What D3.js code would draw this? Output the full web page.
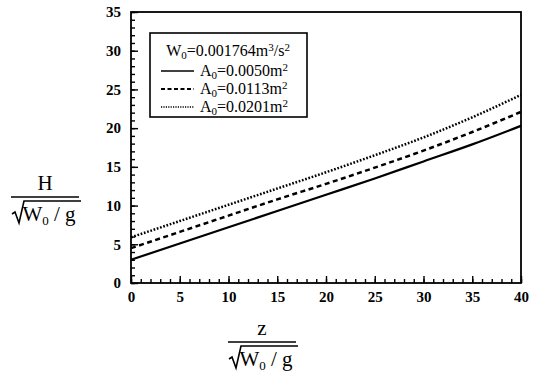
<!DOCTYPE html>
<html>
<head>
<meta charset="utf-8">
<script src="https://cdn.jsdelivr.net/npm/d3@7"></script>
<style>
  body { margin: 0; background: #fff; }
  text { font-family: "Liberation Serif", "DejaVu Serif", serif; fill: #000; }
</style>
</head>
<body>
<script>
// values
var zValues = [0, 5, 10, 15, 20, 25, 30, 35, 40];
var hSolid  = [3.0, 5.1, 7.2, 9.3, 11.4, 13.5, 15.7, 17.9, 20.3];
var hDashed = [4.5, 6.6, 8.7, 10.8, 12.8, 14.9, 17.1, 19.5, 22.1];
var hDotted = [5.9, 8.0, 10.1, 12.2, 14.3, 16.5, 18.8, 21.4, 24.3];
var seriesAreas = ["0.0050", "0.0113", "0.0201"];
var xTicks = [0, 5, 10, 15, 20, 25, 30, 35, 40];
var yTicks = [0, 5, 10, 15, 20, 25, 30, 35];

var width = 540, height = 375;
// note: "top" is taken by window.top, so use plot* names
var plotL = 131, plotR = 521, plotT = 12, plotB = 283;

var svg = d3.select("body").append("svg")
    .attr("width", width)
    .attr("height", height);

var x = d3.scaleLinear().domain([0, 40]).range([plotL, plotR]);
var y = d3.scaleLinear().domain([0, 35]).range([plotB, plotT]);

// minor ticks every 1 unit, inward
var xMinor = d3.axisBottom(x).tickValues(d3.range(0, 41, 1)).tickSize(-4).tickFormat("");
var yMinor = d3.axisLeft(y).tickValues(d3.range(0, 36, 1)).tickSize(-4).tickFormat("");
svg.append("g").attr("transform", "translate(0," + plotB + ")").call(xMinor);
svg.append("g").attr("transform", "translate(" + plotL + ",0)").call(yMinor);

var xAxis = d3.axisBottom(x).tickValues(xTicks).tickSize(-7).tickPadding(11);
var yAxis = d3.axisLeft(y).tickValues(yTicks).tickSize(-7).tickPadding(10);
var gx = svg.append("g").attr("transform", "translate(0," + plotB + ")").call(xAxis);
var gy = svg.append("g").attr("transform", "translate(" + plotL + ",0)").call(yAxis);

svg.selectAll(".domain").remove();
svg.selectAll(".tick line").attr("stroke", "#000").attr("stroke-width", 1.4);
gx.selectAll("text").attr("font-size", 15).attr("font-family", "Liberation Serif")
    .attr("font-weight", "bold").attr("dy", "0.5em");
gy.selectAll("text").attr("font-size", 15).attr("font-family", "Liberation Serif")
    .attr("font-weight", "bold");

// frame
svg.append("rect")
    .attr("x", plotL).attr("y", plotT)
    .attr("width", plotR - plotL).attr("height", plotB - plotT)
    .attr("fill", "none").attr("stroke", "#000").attr("stroke-width", 1.8);

var line = d3.line()
    .x(function(d) { return x(d[0]); })
    .y(function(d) { return y(d[1]); })
    .curve(d3.curveMonotoneX);

var series = [
    { vals: hSolid,  dash: null,    w: 2.2 },
    { vals: hDashed, dash: "5,3.5", w: 2.5 },
    { vals: hDotted, dash: "1.7,1.7", w: 2.5 }
];

series.forEach(function(s) {
    svg.append("path")
        .datum(zValues.map(function(z, i) { return [z, s.vals[i]]; }))
        .attr("d", line)
        .attr("fill", "none")
        .attr("stroke", "#000")
        .attr("stroke-width", s.w)
        .attr("stroke-dasharray", s.dash);
});

// legend
var lg = svg.append("g");
lg.append("rect")
    .attr("x", 150).attr("y", 33).attr("width", 157).attr("height", 84)
    .attr("fill", "#fff").attr("stroke", "#000").attr("stroke-width", 1.6);

var t0 = lg.append("text").attr("x", 228).attr("y", 56)
    .attr("text-anchor", "middle").attr("font-size", 16);
t0.append("tspan").text("W");
t0.append("tspan").attr("font-size", 11).attr("dy", 3).text("0");
t0.append("tspan").attr("dy", -3).text("=0.001764m");
t0.append("tspan").attr("font-size", 11).attr("dy", -5).text("3");
t0.append("tspan").attr("dy", 5).text("/s");
t0.append("tspan").attr("font-size", 11).attr("dy", -5).text("2");

series.forEach(function(s, i) {
    var cy = 71 + i * 18;
    lg.append("line")
        .attr("x1", 161).attr("x2", 194).attr("y1", cy).attr("y2", cy)
        .attr("stroke", "#000").attr("stroke-width", i == 1 ? 2 : 1.6)
        .attr("stroke-dasharray", i == 0 ? null : (i == 1 ? "4,2.5" : "1.2,1.2"));
    var t = lg.append("text").attr("x", 200).attr("y", cy + 5).attr("font-size", 16);
    t.append("tspan").text("A");
    t.append("tspan").attr("font-size", 11).attr("dy", 3).text("0");
    t.append("tspan").attr("dy", -3).text("=" + seriesAreas[i] + "m");
    t.append("tspan").attr("font-size", 11).attr("dy", -5).text("2");
});

// fraction labels  numerator / sqrt(W0/g)
function fracLabel(cx, cy, num) {
    var g = svg.append("g");
    g.append("text").attr("x", cx).attr("y", cy - 7)
        .attr("text-anchor", "middle").attr("font-size", 21).text(num);
    g.append("line")
        .attr("x1", cx - 34).attr("x2", cx + 34).attr("y1", cy).attr("y2", cy)
        .attr("stroke", "#000").attr("stroke-width", 1.6);
    var t = g.append("text").attr("x", cx + 4).attr("y", cy + 24)
        .attr("text-anchor", "middle").attr("font-size", 21);
    t.append("tspan").text("W");
    t.append("tspan").attr("font-size", 13).attr("dy", 4).text("0");
    t.append("tspan").attr("dy", -4).text(" / g");
    // radical sign
    g.append("path")
        .attr("d", "M" + (cx - 33) + "," + (cy + 17) + " l3,-2 l4,11 l5,-22 l" + 57 + ",0")
        .attr("fill", "none").attr("stroke", "#000").attr("stroke-width", 1.6);
}
fracLabel(45, 197, "H");
fracLabel(262, 342, "z");
</script>
</body>
</html>
